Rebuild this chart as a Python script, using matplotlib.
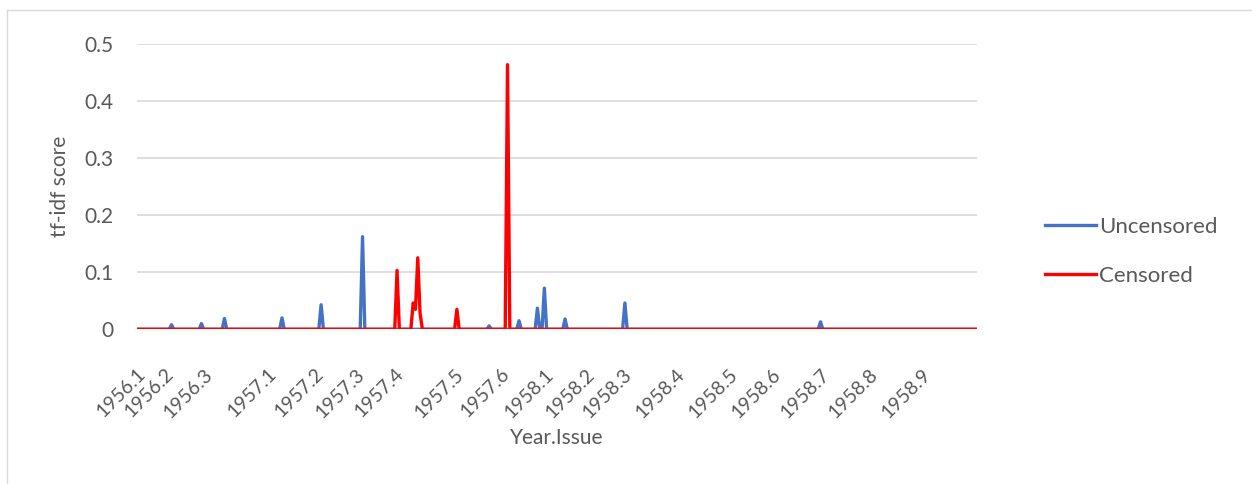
import numpy as np
import matplotlib.pyplot as plt
from matplotlib.patches import Rectangle

plt.rcParams['font.family'] = ['Lato', 'DejaVu Sans']

# one category per article, label only at first article of each issue
n_points = 366
issue_labels = ['1956.1', '1956.2', '1956.3', '1957.1', '1957.2', '1957.3',
                '1957.4', '1957.5', '1957.6', '1958.1', '1958.2', '1958.3',
                '1958.4', '1958.5', '1958.6', '1958.7', '1958.8', '1958.9']
issue_starts = [0, 12, 29, 57, 77, 95, 112, 138, 158, 177, 195, 211,
                234, 257, 276, 297, 318, 341]

# non-zero tf-idf scores (everything else is 0)
uncensored_idx = [15, 28, 38, 63, 80, 98, 153, 166, 174, 177, 186, 212, 297]
uncensored_val = [0.008, 0.010, 0.019, 0.020, 0.043, 0.162, 0.006, 0.015,
                  0.037, 0.072, 0.018, 0.046, 0.013]
censored_idx = [113, 120, 121, 122, 123, 139, 161]
censored_val = [0.103, 0.046, 0.035, 0.125, 0.028, 0.035, 0.463]

uncensored = np.zeros(n_points)
uncensored[uncensored_idx] = uncensored_val
censored = np.zeros(n_points)
censored[censored_idx] = censored_val
x = np.arange(n_points)

text_col = '#595959'
fs = 16

fig = plt.figure(figsize=(12.52, 4.84), dpi=100)
ax = fig.add_axes([137 / 1252, 1 - 329.3 / 484, 840 / 1252, (329.3 - 43.5) / 484])

fig.patches.append(Rectangle((7 / 1252, -0.05), 1.2, 1 - 10 / 484 + 0.05,
                             transform=fig.transFigure, fill=False,
                             edgecolor='#d9d9d9', lw=1.0))

ax.plot(x, uncensored, color='#4472C4', lw=2.4, label='Uncensored', zorder=3)
ax.plot(x, censored, color='#FF0000', lw=2.4, label='Censored', zorder=4)

ax.set_xlim(0, n_points - 1)
ax.set_ylim(0, 0.5)
ax.set_yticks([0, 0.1, 0.2, 0.3, 0.4, 0.5])
ax.set_yticklabels(['0', '0.1', '0.2', '0.3', '0.4', '0.5'])
ax.grid(axis='y', color='#d9d9d9', lw=1.2, zorder=0)
ax.set_axisbelow(True)
for s in ax.spines.values():
    s.set_visible(False)

ax.set_xticks(issue_starts)
ax.set_xticklabels(issue_labels, rotation=45, ha='right', rotation_mode='anchor')

ax.tick_params(axis='both', length=0, labelcolor=text_col)
ax.tick_params(axis='x', pad=26, labelsize=14)
ax.tick_params(axis='y', pad=17, labelsize=15)

ax.set_ylabel('tf-idf score', fontsize=15, color=text_col)
ax.yaxis.set_label_coords(-0.080, 0.5)
ax.set_xlabel('Year.Issue', fontsize=15, color=text_col)
ax.xaxis.set_label_coords(0.5, -0.345)

fig.legend(loc='center left', bbox_to_anchor=(1045 / 1252, 1 - 251.5 / 484),
           frameon=False, fontsize=fs, labelcolor=text_col, borderpad=0,
           borderaxespad=0, handlelength=2.3, handletextpad=0.15,
           labelspacing=1.3)

fig.savefig('out.png', dpi=100)
